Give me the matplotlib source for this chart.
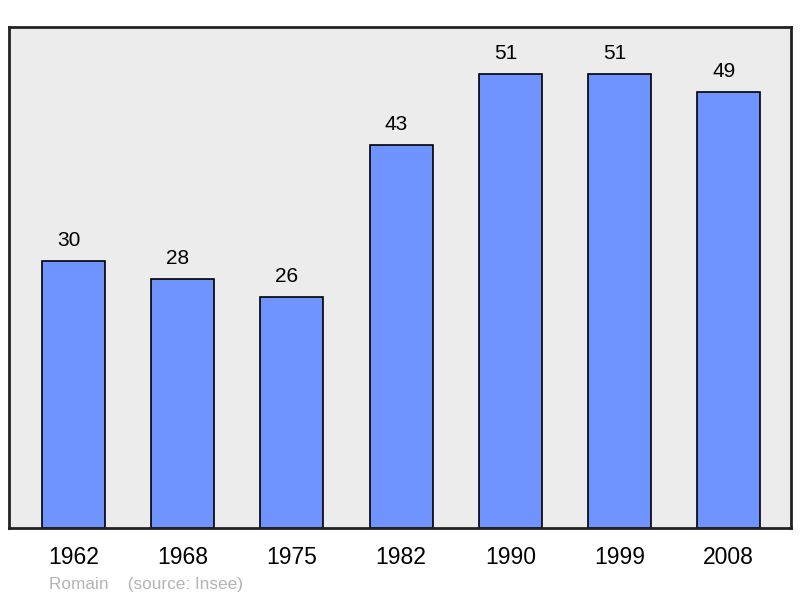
import matplotlib.pyplot as plt

plt.rcParams['font.family'] = ['Liberation Sans', 'DejaVu Sans']

years = ['1962', '1968', '1975', '1982', '1990', '1999', '2008']
population = [30, 28, 26, 43, 51, 51, 49]

fig = plt.figure(figsize=(8, 5.98), dpi=100)
ax = fig.add_axes([9 / 800, 1 - 528 / 598, 782 / 800, 501 / 598])
ax.set_facecolor('#ececec')

x = range(len(years))
bars = ax.bar(x, population, width=0.576, color='#7094ff',
              edgecolor='black', linewidth=1.2, zorder=2)

# value labels sit a little left of the bar centre, like the original
for bar, val in zip(bars, population):
    ax.annotate(str(val), (bar.get_x() + bar.get_width() / 2, bar.get_height()),
                xytext=(-3.6, 8), textcoords='offset points',
                ha='center', va='bottom', fontsize=15)

ax.set_xlim(-0.59, 6.57)
ax.set_ylim(0, 56.3)
ax.set_yticks([])
ax.set_xticks(list(x))
ax.set_xticklabels(years, fontsize=16.5)
ax.tick_params(axis='x', length=0, pad=13)
for s in ax.spines.values():
    s.set_linewidth(2)
    s.set_edgecolor('#222222')

fig.text(49 / 800, 1 - 584 / 598, 'Romain    (source: Insee)',
         color='#b4b4b4', fontsize=12.4, va='center', ha='left')

fig.savefig('out.png', dpi=100)
